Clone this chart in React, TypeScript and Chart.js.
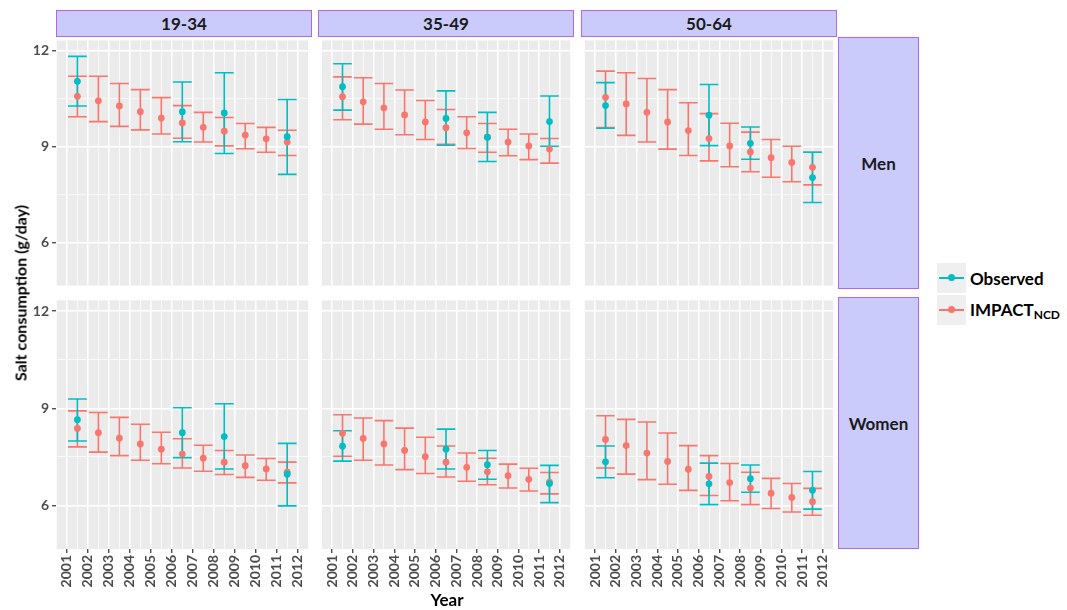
import React, { useEffect, useRef } from 'react';
import { Chart, registerables } from 'chart.js';

Chart.register(...registerables);

// ---------- data ----------
const ageGroups = ['19-34', '35-49', '50-64'];
const sexes = ['Men', 'Women'];
const periods = [2001.5, 2002.5, 2003.5, 2004.5, 2005.5, 2006.5, 2007.5, 2008.5, 2009.5, 2010.5, 2011.5];
const obsPeriods = [2001.5, 2006.5, 2008.5, 2011.5];
const tickYears = [2001, 2002, 2003, 2004, 2005, 2006, 2007, 2008, 2009, 2010, 2011, 2012];
const minorYears = [2000.5, 2001.5, 2002.5, 2003.5, 2004.5, 2005.5, 2006.5, 2007.5, 2008.5, 2009.5, 2010.5, 2011.5, 2012.5];
const yTicks = [6, 9, 12];
const yMinorTicks = [7.5, 10.5];

// Men 19-34
const men1934Model = [10.58, 10.44, 10.28, 10.1, 9.9, 9.75, 9.61, 9.49, 9.37, 9.25, 9.15];
const men1934ModelLo = [9.94, 9.79, 9.64, 9.53, 9.4, 9.27, 9.15, 9.03, 8.94, 8.83, 8.73];
const men1934ModelHi = [11.21, 11.21, 10.98, 10.79, 10.54, 10.29, 10.08, 9.92, 9.73, 9.61, 9.52];
const men1934Obs = [11.05, 10.1, 10.06, 9.32];
const men1934ObsLo = [10.28, 9.16, 8.79, 8.14];
const men1934ObsHi = [11.83, 11.03, 11.32, 10.48];

// Men 35-49
const men3549Model = [10.57, 10.41, 10.22, 10.0, 9.78, 9.6, 9.44, 9.3, 9.15, 9.03, 8.93];
const men3549ModelLo = [9.85, 9.71, 9.55, 9.38, 9.23, 9.08, 8.95, 8.83, 8.72, 8.6, 8.49];
const men3549ModelHi = [11.19, 11.16, 10.98, 10.78, 10.45, 10.17, 9.94, 9.73, 9.55, 9.4, 9.26];
const men3549Obs = [10.88, 9.89, 9.3, 9.79];
const men3549ObsLo = [10.15, 9.05, 8.54, 9.02];
const men3549ObsHi = [11.6, 10.75, 10.08, 10.59];

// Men 50-64
const men5064Model = [10.55, 10.34, 10.08, 9.78, 9.51, 9.26, 9.03, 8.84, 8.66, 8.51, 8.36];
const men5064ModelLo = [9.6, 9.36, 9.15, 8.93, 8.73, 8.56, 8.38, 8.22, 8.05, 7.91, 7.81];
const men5064ModelHi = [11.37, 11.32, 11.14, 10.79, 10.38, 10.04, 9.74, 9.46, 9.23, 9.02, 8.83];
const men5064Obs = [10.29, 9.99, 9.11, 8.04];
const men5064ObsLo = [9.58, 9.04, 8.61, 7.26];
const men5064ObsHi = [11.01, 10.95, 9.62, 8.83];

// Women 19-34
const women1934Model = [8.38, 8.25, 8.08, 7.9, 7.74, 7.59, 7.46, 7.34, 7.23, 7.13, 7.03];
const women1934ModelLo = [7.81, 7.65, 7.54, 7.4, 7.29, 7.16, 7.06, 6.96, 6.87, 6.78, 6.7];
const women1934ModelHi = [8.92, 8.87, 8.72, 8.51, 8.26, 8.06, 7.86, 7.7, 7.56, 7.45, 7.34];
const women1934Obs = [8.65, 8.25, 8.13, 6.97];
const women1934ObsLo = [7.99, 7.48, 7.13, 5.99];
const women1934ObsHi = [9.29, 9.02, 9.14, 7.92];

// Women 35-49
const women3549Model = [8.23, 8.07, 7.9, 7.7, 7.51, 7.34, 7.18, 7.04, 6.92, 6.81, 6.72];
const women3549ModelLo = [7.52, 7.4, 7.25, 7.11, 6.99, 6.88, 6.75, 6.64, 6.54, 6.45, 6.36];
const women3549ModelHi = [8.8, 8.7, 8.62, 8.39, 8.11, 7.84, 7.62, 7.46, 7.28, 7.15, 7.02];
const women3549Obs = [7.83, 7.74, 7.26, 6.68];
const women3549ObsLo = [7.37, 7.13, 6.81, 6.09];
const women3549ObsHi = [8.31, 8.36, 7.7, 7.24];

// Women 50-64
const women5064Model = [8.04, 7.85, 7.62, 7.36, 7.12, 6.9, 6.71, 6.54, 6.38, 6.25, 6.12];
const women5064ModelLo = [7.16, 6.97, 6.8, 6.66, 6.47, 6.31, 6.15, 6.03, 5.91, 5.8, 5.7];
const women5064ModelHi = [8.77, 8.66, 8.58, 8.24, 7.85, 7.54, 7.3, 7.03, 6.84, 6.68, 6.53];
const women5064Obs = [7.35, 6.67, 6.83, 6.47];
const women5064ObsLo = [6.86, 6.03, 6.41, 5.89];
const women5064ObsHi = [7.84, 7.31, 7.25, 7.05];

const panels = [
  [
    { model: men1934Model, modelLo: men1934ModelLo, modelHi: men1934ModelHi, obs: men1934Obs, obsLo: men1934ObsLo, obsHi: men1934ObsHi },
    { model: men3549Model, modelLo: men3549ModelLo, modelHi: men3549ModelHi, obs: men3549Obs, obsLo: men3549ObsLo, obsHi: men3549ObsHi },
    { model: men5064Model, modelLo: men5064ModelLo, modelHi: men5064ModelHi, obs: men5064Obs, obsLo: men5064ObsLo, obsHi: men5064ObsHi },
  ],
  [
    { model: women1934Model, modelLo: women1934ModelLo, modelHi: women1934ModelHi, obs: women1934Obs, obsLo: women1934ObsLo, obsHi: women1934ObsHi },
    { model: women3549Model, modelLo: women3549ModelLo, modelHi: women3549ModelHi, obs: women3549Obs, obsLo: women3549ObsLo, obsHi: women3549ObsHi },
    { model: women5064Model, modelLo: women5064ModelLo, modelHi: women5064ModelHi, obs: women5064Obs, obsLo: women5064ObsLo, obsHi: women5064ObsHi },
  ],
];

// ---------- style / layout ----------
const TEAL = '#00BFC4';
const SALMON = '#F8766D';
const FONT = 'Lato, "Open Sans", sans-serif';
const X_MIN = 2000.48;
const X_MAX = 2012.52;
const Y_MIN = 4.66;
const Y_MAX = 12.33;
const PANEL_LEFT = [56, 318, 581];
const PANEL_W = 256;
const PANEL_TOP = [37, 297];
const PANEL_H = 252;
const Y_AXIS_W = 56;
const X_AXIS_H = 60;
const CAP_HALF = 0.45;

const bgPlugin = {
  id: 'panelBg',
  beforeDraw(chart: any) {
    const { ctx, chartArea } = chart;
    ctx.save();
    ctx.fillStyle = '#EBEBEB';
    ctx.fillRect(chartArea.left, chartArea.top, chartArea.right - chartArea.left, chartArea.bottom - chartArea.top);
    ctx.restore();
  },
};

const errorBarPlugin = {
  id: 'errorBars',
  beforeDatasetsDraw(chart: any) {
    const { ctx } = chart;
    const xs = chart.scales.x;
    const ys = chart.scales.y;
    const sets = chart.data.datasets;
    for (let d = sets.length - 1; d >= 0; d--) {
      const ds: any = sets[d];
      ctx.save();
      ctx.strokeStyle = ds.backgroundColor;
      ctx.lineWidth = 1.6;
      ds.data.forEach((pt: any, i: number) => {
        const px = xs.getPixelForValue(pt.x);
        const xl = xs.getPixelForValue(pt.x - CAP_HALF);
        const xr = xs.getPixelForValue(pt.x + CAP_HALF);
        const yl = ys.getPixelForValue(ds.errLo[i]);
        const yh = ys.getPixelForValue(ds.errHi[i]);
        ctx.beginPath();
        ctx.moveTo(px, yl);
        ctx.lineTo(px, yh);
        ctx.moveTo(xl, yl);
        ctx.lineTo(xr, yl);
        ctx.moveTo(xl, yh);
        ctx.lineTo(xr, yh);
        ctx.stroke();
      });
      ctx.restore();
    }
  },
};

const zeroPad = (s: any) => {
  s.paddingLeft = 0;
  s.paddingRight = 0;
  s.paddingTop = 0;
  s.paddingBottom = 0;
};

function Panel({ row, col }: { row: number; col: number }) {
  const ref = useRef<HTMLCanvasElement>(null);
  const showY = col === 0;
  const showX = row === 1;
  const left = showY ? PANEL_LEFT[col] - Y_AXIS_W : PANEL_LEFT[col];
  const width = PANEL_W + (showY ? Y_AXIS_W : 0);
  const top = PANEL_TOP[row];
  const height = PANEL_H + (showX ? X_AXIS_H : 0);

  useEffect(() => {
    const p = panels[row][col];
    const tickFont = { family: FONT, size: 14, weight: 'bold' as const };
    const chart = new Chart(ref.current as HTMLCanvasElement, {
      type: 'scatter',
      data: {
        datasets: [
          {
            label: 'Observed',
            data: obsPeriods.map((x, i) => ({ x, y: p.obs[i] })),
            errLo: p.obsLo,
            errHi: p.obsHi,
            backgroundColor: TEAL,
            borderWidth: 0,
            pointRadius: 3.4,
            pointHoverRadius: 3.4,
          } as any,
          {
            label: 'IMPACT NCD',
            data: periods.map((x, i) => ({ x, y: p.model[i] })),
            errLo: p.modelLo,
            errHi: p.modelHi,
            backgroundColor: SALMON,
            borderWidth: 0,
            pointRadius: 3.4,
            pointHoverRadius: 3.4,
          } as any,
        ],
      },
      options: {
        animation: false,
        responsive: false,
        maintainAspectRatio: false,
        events: [],
        layout: { padding: 0 },
        plugins: { legend: { display: false }, tooltip: { enabled: false } },
        scales: {
          x: {
            type: 'linear',
            min: X_MIN,
            max: X_MAX,
            afterBuildTicks: (s: any) => {
              s.ticks = [...minorYears, ...tickYears].sort((a, b) => a - b).map((v) => ({ value: v }));
            },
            afterFit: (s: any) => {
              s.height = showX ? X_AXIS_H : 0;
              zeroPad(s);
            },
            border: { display: false },
            grid: {
              color: '#FFFFFF',
              lineWidth: (c: any) => (c.tick && tickYears.includes(c.tick.value) ? 1.5 : 0.7),
              drawTicks: showX,
              tickLength: 4,
              tickWidth: 1.2,
              tickColor: (c: any) => (c.tick && tickYears.includes(c.tick.value) ? '#333333' : 'rgba(0,0,0,0)'),
            },
            ticks: {
              display: showX,
              autoSkip: false,
              minRotation: 90,
              maxRotation: 90,
              padding: 2,
              color: '#4D4D4D',
              font: tickFont,
              callback: (v: any) => (tickYears.includes(Number(v)) ? String(v) : ''),
            },
          },
          y: {
            type: 'linear',
            min: Y_MIN,
            max: Y_MAX,
            afterBuildTicks: (s: any) => {
              s.ticks = [...yTicks, ...yMinorTicks].sort((a, b) => a - b).map((v) => ({ value: v }));
            },
            afterFit: (s: any) => {
              s.width = showY ? Y_AXIS_W : 0;
              zeroPad(s);
            },
            border: { display: false },
            grid: {
              color: '#FFFFFF',
              lineWidth: (c: any) => (c.tick && yTicks.includes(c.tick.value) ? 1.5 : 0.7),
              drawTicks: showY,
              tickLength: 4,
              tickWidth: 1.2,
              tickColor: (c: any) => (c.tick && yTicks.includes(c.tick.value) ? '#333333' : 'rgba(0,0,0,0)'),
            },
            ticks: {
              display: showY,
              autoSkip: false,
              padding: 3,
              color: '#4D4D4D',
              font: tickFont,
              callback: (v: any) => (yTicks.includes(Number(v)) ? String(v) : ''),
            },
          },
        },
      },
      plugins: [bgPlugin, errorBarPlugin],
    } as any);
    return () => chart.destroy();
  }, []);

  return (
    <canvas
      ref={ref}
      width={width}
      height={height}
      style={{ position: 'absolute', left, top, width, height }}
    />
  );
}

const stripStyle: React.CSSProperties = {
  position: 'absolute',
  boxSizing: 'border-box',
  background: '#CBCBFB',
  border: '1.5px solid #B266F2',
  display: 'flex',
  alignItems: 'center',
  justifyContent: 'center',
  fontFamily: FONT,
  fontWeight: 'bold',
  fontSize: 17,
  color: '#1A1A1A',
};

export default function App() {
  return (
    <div
      style={{
        position: 'fixed',
        left: 0,
        top: 0,
        width: 1067,
        height: 610,
        background: '#FFFFFF',
        fontFamily: FONT,
        overflow: 'hidden',
      }}
    >
      {sexes.map((_, r) => ageGroups.map((__, c) => <Panel key={`${r}-${c}`} row={r} col={c} />))}

      {ageGroups.map((g, c) => (
        <div key={g} style={{ ...stripStyle, left: PANEL_LEFT[c], top: 10, width: PANEL_W, height: 27 }}>
          {g}
        </div>
      ))}
      {sexes.map((s, r) => (
        <div key={s} style={{ ...stripStyle, left: 838, top: PANEL_TOP[r], width: 81, height: PANEL_H }}>
          {s}
        </div>
      ))}

      <div
        style={{
          position: 'absolute',
          left: 20,
          top: 293,
          transform: 'translate(-50%, -50%) rotate(-90deg)',
          whiteSpace: 'nowrap',
          fontWeight: 'bold',
          fontSize: 16,
          color: '#000',
        }}
      >
        Salt consumption (g/day)
      </div>
      <div
        style={{
          position: 'absolute',
          left: 447,
          top: 599,
          transform: 'translate(-50%, -50%)',
          fontWeight: 'bold',
          fontSize: 17,
          color: '#000',
        }}
      >
        Year
      </div>

      {[
        { color: TEAL, top: 263, label: <span>Observed</span> },
        {
          color: SALMON,
          top: 295,
          label: (
            <span>
              IMPACT<sub style={{ fontSize: 12, verticalAlign: -3 }}>NCD</sub>
            </span>
          ),
        },
      ].map((k, i) => (
        <React.Fragment key={i}>
          <div style={{ position: 'absolute', left: 937, top: k.top, width: 29, height: 30, background: '#EFEFEF' }}>
            <div style={{ position: 'absolute', left: 2, right: 2, top: 14, height: 2, background: k.color }} />
            <div
              style={{
                position: 'absolute',
                left: 11,
                top: 11,
                width: 7,
                height: 7,
                borderRadius: '50%',
                background: k.color,
              }}
            />
          </div>
          <div
            style={{
              position: 'absolute',
              left: 970,
              top: k.top + 15,
              transform: 'translateY(-50%)',
              fontWeight: 'bold',
              fontSize: 17,
              color: '#000',
              whiteSpace: 'nowrap',
            }}
          >
            {k.label}
          </div>
        </React.Fragment>
      ))}
    </div>
  );
}
